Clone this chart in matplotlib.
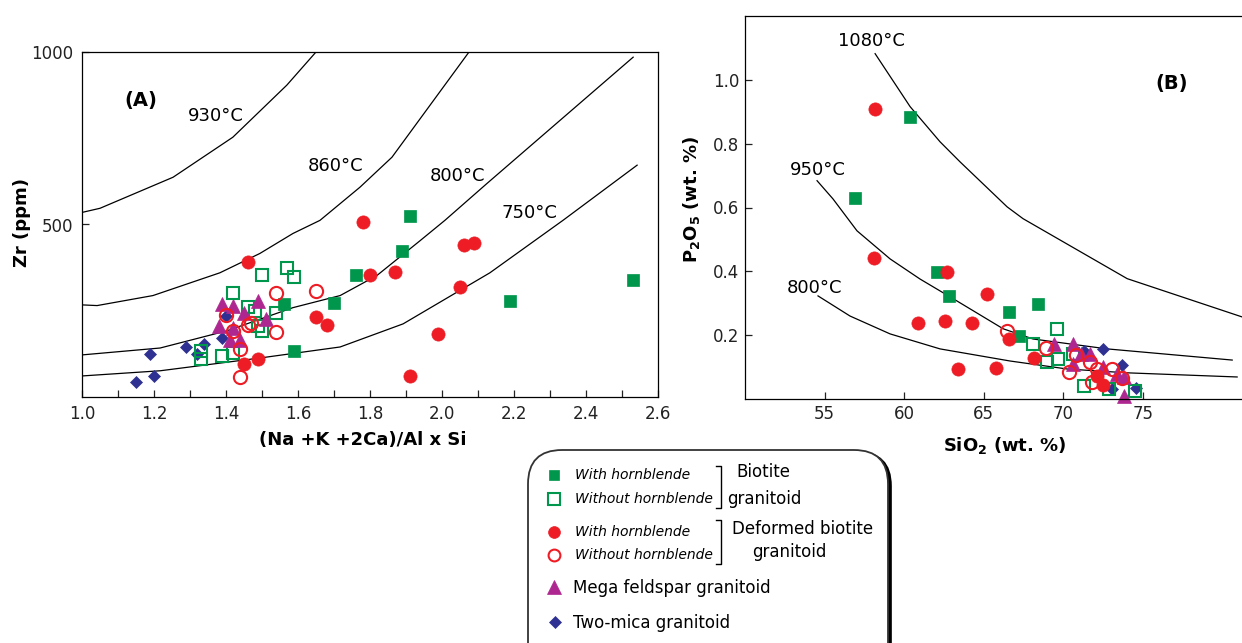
import matplotlib.pyplot as plt
from matplotlib.patches import FancyBboxPatch

# ---------------- Panel A: Zr (ppm) vs M = (Na+K+2Ca)/(Al*Si) ----------------
a_bt_hbl_m = [1.91, 1.89, 1.76, 1.70, 1.56, 1.59, 2.19, 2.53]
a_bt_hbl_zr = [526, 424, 355, 273, 270, 134, 279, 340]

a_bt_nohbl_m = [1.50, 1.57, 1.59, 1.42, 1.46, 1.48, 1.49, 1.50, 1.54, 1.33, 1.33, 1.39, 1.42]
a_bt_nohbl_zr = [355, 375, 349, 302, 262, 250, 206, 192, 244, 134, 110, 119, 128]

a_def_hbl_m = [1.46, 1.45, 1.49, 1.65, 1.68, 1.78, 1.80, 1.87, 2.06, 2.09, 2.05, 1.99, 1.91]
a_def_hbl_zr = [390, 96, 110, 233, 209, 506, 355, 363, 442, 445, 320, 183, 61]

a_def_nohbl_m = [1.44, 1.40, 1.42, 1.46, 1.47, 1.44, 1.54, 1.54, 1.65]
a_def_nohbl_zr = [58, 238, 192, 209, 215, 140, 302, 189, 308]

a_mega_m = [1.39, 1.42, 1.49, 1.45, 1.51, 1.38, 1.41, 1.44, 1.42]
a_mega_zr = [270, 265, 279, 244, 227, 206, 166, 166, 201]

a_twomica_m = [1.15, 1.20, 1.19, 1.29, 1.34, 1.32, 1.39, 1.40]
a_twomica_zr = [44, 61, 125, 145, 154, 125, 172, 235]

# zircon saturation isotherms
a_t930_m = [1.0, 1.05, 1.253, 1.419, 1.569, 1.65]
a_t930_zr = [535, 547, 637, 753, 904, 1000]
a_t860_m = [1.0, 1.042, 1.197, 1.383, 1.494, 1.586, 1.661, 1.772, 1.861, 2.075]
a_t860_zr = [267, 265, 294, 360, 416, 474, 512, 608, 695, 1000]
a_t800_m = [1.0, 1.217, 1.403, 1.586, 1.717, 1.819, 1.939, 2.008, 2.125, 2.531]
a_t800_zr = [122, 142, 192, 259, 294, 352, 453, 512, 619, 985]
a_t750_m = [1.0, 1.217, 1.494, 1.717, 1.892, 2.133, 2.336, 2.542]
a_t750_zr = [61, 76, 113, 145, 212, 360, 512, 672]

# ---------------- Panel B: P2O5 vs SiO2 ----------------
b_bt_hbl_si = [60.4, 56.9, 62.1, 62.8, 66.6, 68.4, 67.2]
b_bt_hbl_p = [0.885, 0.631, 0.398, 0.323, 0.273, 0.298, 0.198]

b_bt_nohbl_si = [69.6, 68.1, 69.0, 69.7, 71.3, 72.9, 74.5, 70.6]
b_bt_nohbl_p = [0.220, 0.173, 0.116, 0.125, 0.041, 0.031, 0.025, 0.141]

b_def_hbl_si = [58.2, 58.1, 62.7, 60.9, 62.6, 64.3, 63.4, 65.2, 65.8, 66.6, 68.2, 72.1, 72.5]
b_def_hbl_p = [0.910, 0.442, 0.398, 0.238, 0.245, 0.238, 0.094, 0.329, 0.097, 0.188, 0.129, 0.072, 0.044]

b_def_nohbl_si = [66.5, 68.9, 70.8, 70.4, 72.1, 73.1, 73.7, 71.8, 71.7]
b_def_nohbl_p = [0.213, 0.160, 0.138, 0.085, 0.094, 0.094, 0.066, 0.053, 0.116]

b_mega_si = [69.4, 70.6, 71.7, 70.6, 72.5, 73.4, 73.8, 73.8, 71.1]
b_mega_p = [0.173, 0.173, 0.141, 0.110, 0.100, 0.078, 0.069, 0.009, 0.141]

b_twomica_si = [72.5, 73.7, 74.6, 71.3, 73.1]
b_twomica_p = [0.157, 0.107, 0.035, 0.151, 0.031]

# apatite saturation isotherms
b_t1080_si = [58.18, 60.38, 62.26, 63.52, 66.48, 67.48, 74.03, 81.26]
b_t1080_p = [1.082, 0.916, 0.806, 0.743, 0.602, 0.565, 0.377, 0.257]
b_t950_si = [54.53, 55.53, 57.04, 59.12, 61.0, 63.33, 66.23, 68.11, 72.77, 80.63]
b_t950_p = [0.684, 0.627, 0.527, 0.439, 0.376, 0.307, 0.220, 0.188, 0.157, 0.122]
b_t800_si = [54.59, 56.60, 59.12, 62.26, 66.67, 70.25, 74.03, 80.94]
b_t800_p = [0.323, 0.260, 0.204, 0.157, 0.119, 0.094, 0.082, 0.069]

GREEN = '#00964B'
RED = '#EE1D25'
MAGENTA = '#AE2790'
BLUE = '#2E3192'

# marker styles, in drawing order
styles = {
    'twomica': dict(marker='D', ms=6.5, mfc=BLUE, mec=BLUE, mew=0.5),
    'bt_hbl': dict(marker='s', ms=8.5, mfc=GREEN, mec=GREEN, mew=0.5),
    'bt_nohbl': dict(marker='s', ms=9, mfc='none', mec=GREEN, mew=1.5),
    'mega': dict(marker='^', ms=10, mfc=MAGENTA, mec=MAGENTA, mew=0.5),
    'def_hbl': dict(marker='o', ms=9.5, mfc=RED, mec=RED, mew=0.5),
    'def_nohbl': dict(marker='o', ms=9.5, mfc='none', mec=RED, mew=1.5),
}

plt.rcParams['font.family'] = 'DejaVu Sans'
fig = plt.figure(figsize=(12.42, 6.43), dpi=100)

# ---- panel A ----
axA = fig.add_axes([82 / 1242, 1 - 397 / 643, 576 / 1242, 345 / 643])
for m, zr in [(a_t930_m, a_t930_zr), (a_t860_m, a_t860_zr),
              (a_t800_m, a_t800_zr), (a_t750_m, a_t750_zr)]:
    axA.plot(m, zr, color='black', lw=0.9)

seriesA = [('twomica', a_twomica_m, a_twomica_zr), ('bt_hbl', a_bt_hbl_m, a_bt_hbl_zr),
           ('bt_nohbl', a_bt_nohbl_m, a_bt_nohbl_zr), ('mega', a_mega_m, a_mega_zr),
           ('def_hbl', a_def_hbl_m, a_def_hbl_zr), ('def_nohbl', a_def_nohbl_m, a_def_nohbl_zr)]
for key, xs, ys in seriesA:
    axA.plot(xs, ys, ls='none', clip_on=False, **styles[key])

axA.set_xlim(1.0, 2.6)
axA.set_ylim(0, 1000)
axA.set_xticks([1.0, 1.2, 1.4, 1.6, 1.8, 2.0, 2.2, 2.4, 2.6])
axA.set_xticks([1.1, 1.3, 1.5, 1.7, 1.9, 2.1, 2.3, 2.5], minor=True)
axA.set_yticks([500, 1000])
axA.tick_params(which='both', direction='in', length=5, width=0.9, labelsize=12,
                colors='#222222', pad=6)

axA.text(1.164, 858, '(A)', fontsize=14, fontweight='bold', ha='center', va='center')
axA.text(1.372, 814, '930°C', fontsize=13, ha='center', va='center')
axA.text(1.703, 669, '860°C', fontsize=13, ha='center', va='center')
axA.text(2.044, 640, '800°C', fontsize=13, ha='center', va='center')
axA.text(2.244, 532, '750°C', fontsize=13, ha='center', va='center')

# ---- panel B ----
axB = fig.add_axes([745 / 1242, 1 - 399 / 643, 509 / 1242, 383 / 643])
for si, p in [(b_t1080_si, b_t1080_p), (b_t950_si, b_t950_p), (b_t800_si, b_t800_p)]:
    axB.plot(si, p, color='black', lw=0.9)

seriesB = [('twomica', b_twomica_si, b_twomica_p), ('bt_hbl', b_bt_hbl_si, b_bt_hbl_p),
           ('bt_nohbl', b_bt_nohbl_si, b_bt_nohbl_p), ('mega', b_mega_si, b_mega_p),
           ('def_hbl', b_def_hbl_si, b_def_hbl_p), ('def_nohbl', b_def_nohbl_si, b_def_nohbl_p)]
for key, xs, ys in seriesB:
    axB.plot(xs, ys, ls='none', clip_on=False, **styles[key])

axB.set_xlim(50, 82)
axB.set_ylim(0, 1.2)
axB.set_xticks([55, 60, 65, 70, 75])
axB.set_yticks([0.2, 0.4, 0.6, 0.8, 1.0])
axB.set_yticklabels(['0.2', '0.4', '0.6', '0.8', '1.0'])
axB.tick_params(direction='in', length=5, width=0.9, labelsize=12, colors='#222222', pad=4)

axB.text(57.92, 1.123, '1080°C', fontsize=13, ha='center', va='center')
axB.text(54.59, 0.718, '950°C', fontsize=13, ha='center', va='center')
axB.text(54.40, 0.348, '800°C', fontsize=13, ha='center', va='center')
axB.text(76.8, 0.988, '(B)', fontsize=14, fontweight='bold', ha='center', va='center')

for ax in (axA, axB):
    for s in ax.spines.values():
        s.set_linewidth(0.9)

# axis titles
fig.text(22 / 1242, 1 - 222 / 643, 'Zr (ppm)', rotation=90, fontsize=13,
         fontweight='bold', ha='center', va='center')
fig.text(363 / 1242, 1 - 440 / 643, '(Na +K +2Ca)/Al x Si', fontsize=13,
         fontweight='bold', ha='center', va='center')
fig.text(692 / 1242, 1 - 200 / 643, r'$\mathbf{P_2O_5}$ (wt. %)', rotation=90,
         fontsize=13, fontweight='bold', ha='center', va='center')
fig.text(1005 / 1242, 1 - 446 / 643, r'$\mathbf{SiO_2}$ (wt. %)', fontsize=13,
         fontweight='bold', ha='center', va='center')

# ---- legend box (pixel coordinates) ----
leg = fig.add_axes([0, 0, 1, 1])
leg.set_xlim(0, 1242)
leg.set_ylim(643, 0)
leg.axis('off')
leg.patch.set_alpha(0)

leg.add_patch(FancyBboxPatch((531, 452), 360, 230, boxstyle='round,pad=0,rounding_size=34',
                             fc='black', ec='black', lw=1.2))
leg.add_patch(FancyBboxPatch((528, 450), 360, 230, boxstyle='round,pad=0,rounding_size=34',
                             fc='white', ec='#333333', lw=1.3))

rows = [('bt_hbl', 475, 'With hornblende'),
        ('bt_nohbl', 499, 'Without hornblende'),
        ('def_hbl', 532, 'With hornblende'),
        ('def_nohbl', 555, 'Without hornblende')]
for key, y, label in rows:
    st = dict(styles[key])
    st['ms'] = st['ms'] - 1
    leg.plot([554], [y], ls='none', **st)
    leg.text(575, y, label, fontsize=10, style='italic', ha='left', va='center')

leg.plot([554], [587], ls='none', **styles['mega'])
leg.text(573, 588, 'Mega feldspar granitoid', fontsize=12, ha='left', va='center')
leg.plot([555], [622], ls='none', **styles['twomica'])
leg.text(573, 623, 'Two-mica granitoid', fontsize=12, ha='left', va='center')

# brackets grouping the hornblende rows
for y0, y1 in [(466, 508), (520, 564)]:
    leg.plot([716, 721, 721, 716], [y0, y0, y1, y1], color='black', lw=1.0)

leg.text(763, 472, 'Biotite', fontsize=12, ha='center', va='center')
leg.text(764, 499, 'granitoid', fontsize=12, ha='center', va='center')
leg.text(803, 529, 'Deformed biotite', fontsize=12, ha='center', va='center')
leg.text(789, 552, 'granitoid', fontsize=12, ha='center', va='center')

fig.savefig('out.png', dpi=100)
